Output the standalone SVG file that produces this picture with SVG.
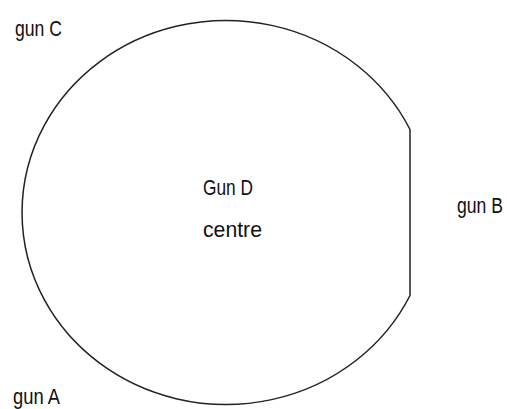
<svg xmlns="http://www.w3.org/2000/svg" width="507" height="409" viewBox="0 0 507 409">
<style>
.lbl{font-family:"Liberation Sans",Arial,sans-serif;font-size:17px;fill:#111;}
.shape{fill:none;stroke:#222;stroke-width:1.5;}
</style>
<rect width="507" height="409" fill="#fff"/>
<g id="circle">
<path class="shape" d="M410,129.5 A204,192 0 1 0 410,295.5 Z"/>
</g>
<g id="gunC" transform="translate(15,36) scale(1,1.32)"><text class="lbl" x="0" y="0" textLength="47" lengthAdjust="spacingAndGlyphs">gun C</text></g>
<g id="gunD">
<g transform="translate(203,195) scale(1,1.32)"><text class="lbl" x="0" y="0" textLength="50" lengthAdjust="spacingAndGlyphs">Gun D</text></g>
<g transform="translate(203,237) scale(1,1.32)"><text class="lbl" x="0" y="0" textLength="59" lengthAdjust="spacingAndGlyphs">centre</text></g>
</g>
<g id="gunB" transform="translate(457,213) scale(1,1.32)"><text class="lbl" x="0" y="0" textLength="46" lengthAdjust="spacingAndGlyphs">gun B</text></g>
<g id="gunA" transform="translate(13,404) scale(1,1.32)"><text class="lbl" x="0" y="0" textLength="47" lengthAdjust="spacingAndGlyphs">gun A</text></g>
</svg>
